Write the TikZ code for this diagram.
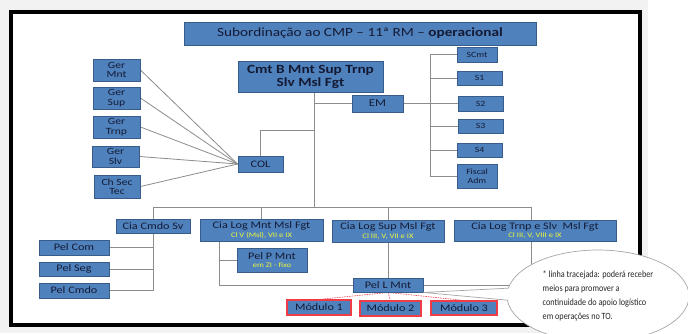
\documentclass[tikz,border=0pt]{standalone}
\usepackage{fontspec}
\setmainfont{Carlito}[FakeStretch=1.22]
\newfontfamily\narrowfont{Carlito}[FakeStretch=0.86]
\usetikzlibrary{shapes.callouts}
\pgfdeclarelayer{bg}
\pgfdeclarelayer{lines}
\pgfsetlayers{bg,lines,main}
\definecolor{boxblue}{HTML}{4F81BD}
\definecolor{boxedge}{HTML}{385D8A}
\definecolor{boxtext}{HTML}{141A33}
\definecolor{subyel}{HTML}{EEF83A}
\definecolor{modred}{HTML}{F03C46}
\definecolor{linegray}{HTML}{8C8C8C}
\tikzset{
  box/.style={draw=boxedge, line width=0.9pt, fill=boxblue, text=boxtext, inner sep=0pt, align=center, font=\fontsize{9.5}{9.5}\selectfont},
  smallbox/.style={box, font=\fontsize{8}{8.5}\selectfont},
  midbox/.style={box, font=\fontsize{10}{10}\selectfont},
  modbox/.style={fill=boxblue, text=boxtext, inner sep=0pt, align=center, draw=modred, line width=1.1pt, font=\fontsize{10}{10}\selectfont},
  conn/.style={draw=linegray, line width=0.8pt},
  redconn/.style={draw=modred, line width=0.6pt, dash pattern=on 1.5pt off 1pt}
}
\newcommand{\subline}[1]{{\color{subyel}\fontsize{7}{7.5}\selectfont #1}}
\begin{document}
\begin{tikzpicture}[x=1pt,y=-1pt]
\useasboundingbox (0,0) rectangle (688,333);
\begin{pgfonlayer}{bg}
\fill[gray!10] (0,0) rectangle (688,333);
\fill[white] (648,0) rectangle (688,333);
\draw[black, line width=4pt, fill=white] (11,12) rectangle (640,325);
\end{pgfonlayer}

% title
\node[box, minimum width=352pt, minimum height=23pt, font=\fontsize{12.5}{13}\selectfont] (title) at (360,33.5) {Subordinação ao CMP -- 11ª RM -- \textbf{operacional}};

% top
\node[box, minimum width=145pt, minimum height=31pt, font=\fontsize{12.5}{13}\selectfont\bfseries] (cmtb) at (310.5,76.5) {Cmt B Mnt Sup Trnp\\Slv Msl Fgt};
\node[box, minimum width=51pt, minimum height=17pt, font=\fontsize{10.5}{11}\selectfont] (em) at (377.5,103.5) {EM};
\node[box, minimum width=45pt, minimum height=16pt, font=\fontsize{10}{10}\selectfont] (col) at (260.5,164) {COL};

% Ger column
\node[box, minimum width=47pt, minimum height=22pt] (germnt) at (116.5,70) {Ger\\Mnt};
\node[box, minimum width=47pt, minimum height=22pt] (gersup) at (116.5,98) {Ger\\Sup};
\node[box, minimum width=47pt, minimum height=22pt] (gertrnp) at (116.5,127) {Ger\\Trnp};
\node[box, minimum width=47pt, minimum height=21pt] (gerslv) at (115.5,156.5) {Ger\\Slv};
\node[box, minimum width=46pt, minimum height=23pt] (chsec) at (117,186.5) {Ch Sec\\Tec};

% staff column
\node[smallbox, minimum width=40pt, minimum height=15pt] (scmt) at (477,54.5) {SCmt};
\node[smallbox, minimum width=45pt, minimum height=14pt] (s1) at (479.5,78) {S1};
\node[smallbox, minimum width=45pt, minimum height=15pt] (s2) at (480.5,103.5) {S2};
\node[smallbox, minimum width=45pt, minimum height=14pt] (s3) at (480.5,126) {S3};
\node[smallbox, minimum width=45pt, minimum height=14pt] (s4) at (479.5,150) {S4};
\node[smallbox, minimum width=40pt, minimum height=24pt] (fiscal) at (477,176) {Fiscal\\Adm};

% companies
\node[midbox, minimum width=74pt, minimum height=14pt] (ciacmdo) at (153,226) {Cia Cmdo Sv};
\node[midbox, minimum width=123pt, minimum height=22pt] (cialogmnt) at (261.5,230) {Cia Log Mnt Msl Fgt\\[-1.5pt]\subline{Cl V (Msl), VII e IX}};
\node[midbox, minimum width=112pt, minimum height=22pt] (cialogsup) at (388,231) {Cia Log Sup Msl Fgt\\[-1.5pt]\subline{Cl III, V, VII e IX}};
\node[midbox, minimum width=162pt, minimum height=21pt] (cialogtrnp) at (535,230.5) {Cia Log Trnp e Slv \ Msl Fgt\\[-1.5pt]\subline{Cl III, V, VIII e IX}};

% platoons
\node[midbox, minimum width=70pt, minimum height=15pt] (pelcom) at (74,247.5) {Pel Com};
\node[midbox, minimum width=70pt, minimum height=14pt] (pelseg) at (74,269) {Pel Seg};
\node[midbox, minimum width=70pt, minimum height=15pt] (pelcmdo) at (74,290.5) {Pel Cmdo};
\node[midbox, minimum width=70pt, minimum height=24pt] (pelpmnt) at (272,260) {Pel P Mnt\\[-1.5pt]\subline{em ZI - fixo}};
\node[midbox, minimum width=70pt, minimum height=14pt] (pellmnt) at (388,285) {Pel L Mnt};

% modules
\node[modbox, minimum width=64pt, minimum height=15pt] (mod1) at (319,307.5) {Módulo 1};
\node[modbox, minimum width=61pt, minimum height=15pt] (mod2) at (390.5,308.5) {Módulo 2};
\node[modbox, minimum width=66pt, minimum height=14pt] (mod3) at (464,308) {Módulo 3};

% connectors (behind boxes)
\coordinate (trtop) at (314,92);
\coordinate (trem) at (314,103.5);
\coordinate (trcol) at (314,130);
\coordinate (trbus) at (314,207);
\coordinate (busl) at (153,207);
\coordinate (busr) at (531,207);
\coordinate (trnpdown) at (531,285);
\coordinate (emr) at (430,103.5);
\coordinate (stafftop) at (430,54.5);
\coordinate (staffbot) at (430,176);
\coordinate (cmdodown) at (153,290.5);
\coordinate (mntdown) at (219,285);
\coordinate (mnttop) at (219,241);

\begin{pgfonlayer}{lines}
\path[conn] (trtop) -- (trbus);
\path[conn] (trem) -- (em.west);
\path[conn] (trcol) -| (col.north);
\path[conn] (ciacmdo.north) |- (busr);
\path[conn] (cialogmnt.north |- busl) -- (cialogmnt.north);
\path[conn] (cialogsup.north |- busl) -- (cialogsup.north);
\path[conn] (busr) -- (trnpdown) -- (pellmnt.east);
\path[conn] (em.east) -- (emr);
\path[conn] (stafftop) -- (staffbot);
\foreach \n in {scmt,s1,s2,s3,s4,fiscal} \path[conn] (stafftop |- \n.west) -- (\n.west);
\foreach \n in {germnt,gersup,gertrnp,gerslv,chsec} \path[conn] (\n.east) -- (col.west);
\path[conn] (ciacmdo.south) -- (cmdodown);
\foreach \n in {pelcom,pelseg,pelcmdo} \path[conn] (\n.east) -- (ciacmdo.south |- \n.east);
\path[conn] (mnttop) -- (mntdown) -- (pellmnt.west);
\path[conn] (mnttop |- pelpmnt.west) -- (pelpmnt.west);
\path[conn] (cialogsup.south) -- (pellmnt.north);
\foreach \n in {mod1,mod2,mod3} \path[redconn] (pellmnt.south) -- (\n.north);
\end{pgfonlayer}

% callout
\node[ellipse callout, draw=gray!70, line width=0.7pt, fill=white, minimum width=182pt, minimum height=92pt,
  callout absolute pointer={(pellmnt.south east)}, align=left, text=black!85, inner sep=0pt,
  font=\narrowfont\fontsize{9.5}{13.8}\selectfont] (note) at (598,296)
  {* linha tracejada: poderá receber\\meios para promover a\\continuidade do apoio logístico\\em operações no TO.};
\end{tikzpicture}
\end{document}
